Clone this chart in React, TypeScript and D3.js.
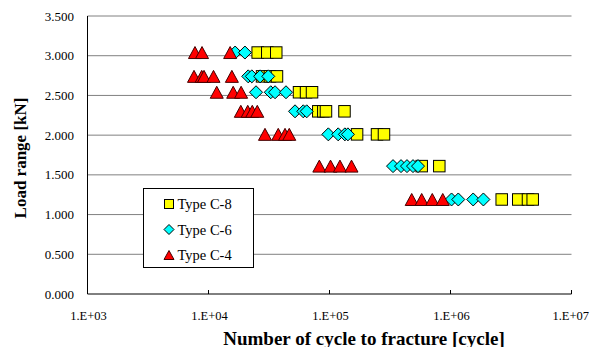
import React from 'react'
import * as d3 from 'd3'

// load levels [kN] tested, one row per level
const loadLevels = [3.04, 2.74, 2.54, 2.3, 2.01, 1.61, 1.19]

// cycles to fracture at each load level
const c8Cycles = [
  [2.55e4, 3.06e4, 3.63e4],
  [2.77e4, 3.22e4, 3.68e4],
  [5.6e4, 6.4e4, 7.17e4],
  [8.08e4, 8.89e4, 9.35e4, 1.33e5],
  [1.69e5, 2.47e5, 2.82e5],
  [5.78e5, 8.08e5],
  [2.65e6, 3.63e6, 4.37e6, 4.78e6],
]
const c6Cycles = [
  [1.66e4, 2.0e4],
  [2.13e4, 2.28e4, 2.67e4, 3.12e4],
  [2.47e4, 3.27e4, 3.55e4, 4.37e4],
  [5.19e4, 6.07e4, 6.48e4],
  [9.78e4, 1.18e5, 1.34e5, 1.42e5],
  [3.35e5, 3.9e5, 4.37e5, 4.9e5, 5.39e5],
  [1.02e6, 1.16e6, 1.54e6, 1.87e6],
]
const c4Cycles = [
  [7.73e3, 8.84e3, 1.51e4],
  [7.59e3, 8.79e3, 9.18e3, 1.1e4, 1.56e4],
  [1.17e4, 1.6e4, 1.86e4],
  [1.85e4, 2.11e4, 2.3e4, 2.53e4],
  [2.93e4, 3.77e4, 4.29e4, 4.65e4],
  [8.24e4, 1.02e5, 1.22e5, 1.52e5],
  [4.78e5, 5.78e5, 7.07e5, 8.63e5],
]

const seriesNames = ['Type C-8', 'Type C-6', 'Type C-4']
const xTicks = [1e3, 1e4, 1e5, 1e6, 1e7]
const xTickLabels = ['1.E+03', '1.E+04', '1.E+05', '1.E+06', '1.E+07']
const yTicks = [0, 0.5, 1, 1.5, 2, 2.5, 3, 3.5]

const W = 590
const H = 347
const font = '"Liberation Serif", "Times New Roman", serif'

const x = d3.scaleLog().domain([1e3, 1e7]).range([87.5, 571.5])
const y = d3.scaleLinear().domain([0, 3.5]).range([294, 16])

function toPoints(rows: number[][]) {
  const pts: { n: number; p: number }[] = []
  rows.forEach((r, i) => r.forEach(n => pts.push({ n, p: loadLevels[i] })))
  return pts
}

function Marker({ kind, cx, cy, s }: { kind: number; cx: number; cy: number; s: number }) {
  if (kind === 0) {
    return <rect x={cx - s / 2} y={cy - s / 2} width={s} height={s} fill="#ffff00" stroke="#000" strokeWidth={1} />
  }
  if (kind === 1) {
    const h = s / 2 + 0.5
    return <path d={`M${cx},${cy - h}L${cx + h},${cy}L${cx},${cy + h}L${cx - h},${cy}Z`} fill="#00ffff" stroke="#000" strokeWidth={1} />
  }
  const hw = s / 2 + 0.5
  const hh = s / 2
  return <path d={`M${cx},${cy - hh}L${cx + hw},${cy + hh}L${cx - hw},${cy + hh}Z`} fill="#ff0000" stroke="#400" strokeWidth={1} />
}

export default function App() {
  const series = [c8Cycles, c6Cycles, c4Cycles].map(toPoints)
  return (
    <svg width={W} height={H} style={{ position: 'absolute', left: 0, top: 0, background: '#fff' }} fontFamily={font}>
      {/* gridlines */}
      {yTicks.slice(1).map(t => (
        <line key={t} x1={x(1e3)} x2={x(1e7)} y1={y(t)} y2={y(t)} stroke="#808080" strokeWidth={1} />
      ))}
      {/* axes */}
      <line x1={x(1e3)} x2={x(1e3)} y1={y(3.5)} y2={y(0)} stroke="#000" />
      <line x1={x(1e3)} x2={x(1e7)} y1={y(0)} y2={y(0)} stroke="#000" />
      {xTicks.map(t => (
        <line key={t} x1={x(t)} x2={x(t)} y1={y(0)} y2={y(0) - 4} stroke="#000" />
      ))}
      {yTicks.map(t => (
        <text key={t} x={74} y={y(t)} dy="0.35em" textAnchor="end" fontSize={13}>
          {d3.format('.3f')(t)}
        </text>
      ))}
      {xTicks.map((t, i) => {
        const last = i === xTicks.length - 1
        return (
          <text key={t} x={last ? 589 : x(t) + 1} y={319.5} textAnchor={last ? 'end' : 'middle'} fontSize={12.5}>
            {xTickLabels[i]}
          </text>
        )
      })}
      {/* points */}
      {series.map((pts, k) => (
        <g key={k}>
          {pts.map((d, i) => (
            <Marker key={i} kind={k} cx={x(d.n)} cy={y(d.p)} s={k === 0 ? 11.5 : 12} />
          ))}
        </g>
      ))}
      {/* legend */}
      <rect x={143.5} y={188.5} width={110} height={79} fill="#fff" stroke="#000" />
      {seriesNames.map((name, i) => (
        <g key={name}>
          <Marker kind={i} cx={169} cy={204 + i * 25.5} s={9} />
          <text x={177.5} y={204 + i * 25.5} dy="0.35em" fontSize={14.5}>
            {name}
          </text>
        </g>
      ))}
      {/* axis titles */}
      <text x={364} y={344.5} textAnchor="middle" fontSize={19} fontWeight="bold">
        Number of cycle to fracture [cycle]
      </text>
      <text transform={`translate(26,158) rotate(-90)`} textAnchor="middle" fontSize={17} fontWeight="bold">
        Load range [kN]
      </text>
    </svg>
  )
}
